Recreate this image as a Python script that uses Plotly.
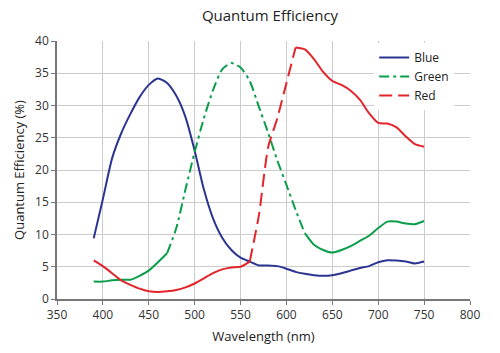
import plotly.graph_objects as go

wavelength = [390, 400, 410, 420, 430, 440, 450, 460, 470, 480, 490, 500, 510, 520, 530, 540,
              550, 560, 570, 580, 590, 600, 610, 620, 630, 640, 650, 660, 670, 680, 690, 700,
              710, 720, 730, 740, 750]
blue = [9.4, 15.5, 21.8, 25.7, 28.7, 31.3, 33.2, 34.2, 33.5, 31.5, 28.2, 23.0, 17.0, 12.5, 9.5, 7.6,
        6.4, 5.8, 5.2, 5.2, 5.1, 4.7, 4.2, 3.9, 3.7, 3.6, 3.7, 4.0, 4.4, 4.8, 5.1, 5.7,
        6.0, 5.95, 5.8, 5.5, 5.8]
green = [2.7, 2.7, 2.9, 3.0, 3.0, 3.6, 4.4, 5.7, 7.1, 11.0, 17.0, 22.8, 28.0, 32.4, 35.6, 36.6,
         35.9, 33.8, 29.8, 25.8, 21.5, 17.7, 13.8, 10.2, 8.4, 7.6, 7.2, 7.6, 8.2, 9.0, 9.8, 11.0,
         12.0, 12.0, 11.7, 11.6, 12.1]
red = [6.0, 5.1, 4.0, 2.9, 2.2, 1.6, 1.2, 1.1, 1.2, 1.4, 1.8, 2.4, 3.2, 4.0, 4.6, 4.9,
       5.0, 5.8, 13.0, 23.5, 28.0, 33.5, 39.0, 38.7, 37.2, 35.2, 33.8, 33.2, 32.3, 30.9, 28.8, 27.3,
       27.2, 26.6, 25.2, 24.0, 23.6]

x_ticks = [350, 400, 450, 500, 550, 600, 650, 700, 750, 800]
y_ticks = [0, 5, 10, 15, 20, 25, 30, 35, 40]

BLUE = "#2b3591"
GREEN = "#0a9e4a"
RED = "#e3242b"

fig = go.Figure()

def idx(w):
    return wavelength.index(w)

# Blue: solid
fig.add_trace(go.Scatter(x=wavelength, y=blue, mode="lines", name="Blue",
                         line=dict(color=BLUE, width=2, shape="spline", smoothing=0.6)))

# Green: solid ends, dash-dot in the steep part
g_dash = "10px,4px,3px,4px"
a, b = idx(470), idx(620)
fig.add_trace(go.Scatter(x=wavelength[:a + 1], y=green[:a + 1], mode="lines", showlegend=False,
                         line=dict(color=GREEN, width=2, shape="spline", smoothing=0.6)))
fig.add_trace(go.Scatter(x=wavelength[a:b + 1], y=green[a:b + 1], mode="lines", name="Green",
                         line=dict(color=GREEN, width=2, dash=g_dash, shape="spline", smoothing=0.6)))
fig.add_trace(go.Scatter(x=wavelength[b:], y=green[b:], mode="lines", showlegend=False,
                         line=dict(color=GREEN, width=2, shape="spline", smoothing=0.6)))

# Red: solid ends, dashed in the steep rise
a, b = idx(560), idx(610)
fig.add_trace(go.Scatter(x=wavelength[:a + 1], y=red[:a + 1], mode="lines", showlegend=False,
                         line=dict(color=RED, width=2, shape="spline", smoothing=0.6)))
fig.add_trace(go.Scatter(x=wavelength[a:b + 1], y=red[a:b + 1], mode="lines", name="Red",
                         line=dict(color=RED, width=2, dash="13px,6px", shape="spline", smoothing=0.6)))
fig.add_trace(go.Scatter(x=wavelength[b:], y=red[b:], mode="lines", showlegend=False,
                         line=dict(color=RED, width=2, shape="spline", smoothing=0.6)))

fig.update_layout(
    width=500, height=353,
    margin=dict(l=57, r=30, t=41, b=54),
    paper_bgcolor="white", plot_bgcolor="white",
    font=dict(family="Open Sans", size=12, color="#333333"),
    title=dict(text="Quantum Efficiency", x=0.54, xanchor="center", y=0.955, yanchor="middle",
               font=dict(size=15, color="#222222")),
    legend=dict(x=0.768, y=0.992, xanchor="left", yanchor="top", bgcolor="rgba(255,255,255,1)",
                font=dict(size=12, color="#222222"), tracegroupgap=0, itemwidth=30),
    showlegend=True,
)
fig.update_xaxes(range=[350, 800], tickvals=x_ticks, ticktext=[str(v) for v in x_ticks],
                 showgrid=True, gridcolor="#cccccc", gridwidth=1,
                 showline=True, linecolor="#777777", linewidth=1.5,
                 ticks="outside", ticklen=4, tickcolor="#777777",
                 title=dict(text="Wavelength (nm)", font=dict(size=13, color="#222222"), standoff=10),
                 zeroline=False, mirror=False)
fig.update_yaxes(range=[0, 40], tickvals=y_ticks, ticktext=[str(v) for v in y_ticks],
                 showgrid=True, gridcolor="#cccccc", gridwidth=1,
                 showline=True, linecolor="#777777", linewidth=1.5,
                 ticks="outside", ticklen=4, tickcolor="#777777",
                 title=dict(text="Quantum Efficiency (%)", font=dict(size=13, color="#222222"), standoff=8),
                 zeroline=False)

fig.write_html("out.html")
